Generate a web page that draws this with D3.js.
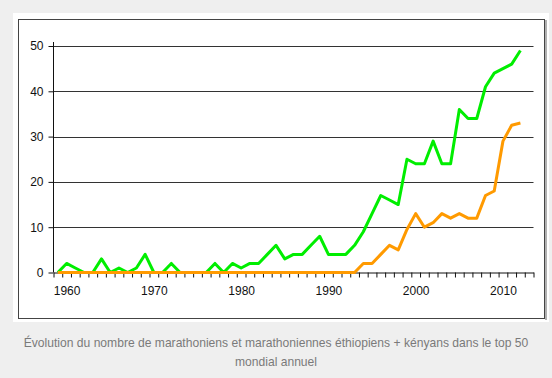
<!DOCTYPE html>
<html>
<head>
<meta charset="utf-8">
<script src="https://cdn.jsdelivr.net/npm/d3@7"></script>
<style>
  html, body { margin: 0; padding: 0; background: #efefef; }
  svg { display: block; }
  .tick text { font-family: "Liberation Sans", Arial, sans-serif; font-size: 12px; fill: #111; }
</style>
</head>
<body>
<svg id="chart" width="552" height="378"></svg>
<script>
// ---- data ----
const years = d3.range(1959, 2013); // 1959..2012
const axisYears = d3.range(1959, 2014); // category slots 1959..2013
const ethKenMen = [0,2,1,0,0,3,0,1,0,1,4,0,0,2,0,0,0,0,2,0,2,1,2,2,4,6,3,4,4,6,8,4,4,4,6,9,13,17,16,15,25,24,24,29,24,24,36,34,34,41,44,45,46,49];
const ethKenWomen = [0,0,0,0,0,0,0,0,0,0,0,0,0,0,0,0,0,0,0,0,0,0,0,0,0,0,0,0,0,0,0,0,0,0,0,2,2,4,6,5,9.5,13,10,11,13,12,13,12,12,17,18,29,32.5,33];
const yTicks = [0, 10, 20, 30, 40, 50];
const xLabelYears = [1960, 1970, 1980, 1990, 2000, 2010];
const caption = ["Évolution du nombre de marathoniens et marathoniennes éthiopiens + kényans dans le top 50", "mondial annuel"];

const svg = d3.select("#chart");

// panel
svg.append("rect").attr("x", 13).attr("y", 13).attr("width", 536).attr("height", 309).attr("fill", "#fff");
svg.append("line").attr("x1", 546).attr("x2", 546).attr("y1", 20).attr("y2", 320).attr("stroke", "#b0b0b0").attr("stroke-width", 2);
svg.append("rect").attr("x", 18.5).attr("y", 19.5).attr("width", 526).attr("height", 299)
  .attr("fill", "none").attr("stroke", "#444").attr("stroke-width", 1);

// scales
const x = d3.scaleLinear().domain([axisYears[0] - 0.5, axisYears[axisYears.length - 1] + 0.5]).range([53.5, 533.5]);
const y = d3.scaleLinear().domain([0, 50]).range([272.5, 46]);

// gridlines
svg.append("g").selectAll("line").data(yTicks.filter(d => d > 0)).join("line")
  .attr("x1", x.range()[0]).attr("x2", x.range()[1])
  .attr("y1", d => Math.round(y(d)) + 0.5).attr("y2", d => Math.round(y(d)) + 0.5)
  .attr("stroke", "#333").attr("stroke-width", 1);

// y axis
const yAxis = svg.append("g").attr("transform", `translate(${x.range()[0]},0)`)
  .call(d3.axisLeft(y).tickValues(yTicks).tickSize(5).tickPadding(5).tickSizeOuter(0));
yAxis.select(".domain").attr("stroke", "#111").attr("d", `M0,${y(0)}V${y(50) - 4}`);
yAxis.selectAll(".tick line").attr("stroke", "#111");

// x axis: tick marks at category boundaries
const edges = axisYears.map(d => d - 0.5).concat([axisYears[axisYears.length - 1] + 0.5]);
const xAxis = svg.append("g").attr("transform", `translate(0,${y(0)})`)
  .call(d3.axisBottom(x).tickValues(edges).tickFormat("").tickSize(5).tickSizeOuter(0));
xAxis.select(".domain").attr("stroke", "#111");
xAxis.selectAll(".tick line").attr("stroke", "#111");

// x labels at decades
const xLab = svg.append("g").attr("transform", `translate(0,${y(0)})`)
  .call(d3.axisBottom(x).tickValues(xLabelYears).tickFormat(d3.format("d")).tickSize(0).tickPadding(14));
xLab.select(".domain").remove();

// lines
const line = d3.line().x((d, i) => x(years[i])).y(d => y(d));
svg.append("path").datum(ethKenMen).attr("d", line)
  .attr("fill", "none").attr("stroke", "#00ee00").attr("stroke-width", 3).attr("stroke-linejoin", "round");
svg.append("path").datum(ethKenWomen).attr("d", line)
  .attr("fill", "none").attr("stroke", "#ff9a00").attr("stroke-width", 3).attr("stroke-linejoin", "round");

// caption
svg.append("text").attr("x", 276).attr("y", 347).attr("text-anchor", "middle")
  .attr("font-family", "Liberation Sans, Arial, sans-serif").attr("font-size", 12.1).attr("fill", "#7a7a7a")
  .text(caption[0]);
svg.append("text").attr("x", 276).attr("y", 366).attr("text-anchor", "middle")
  .attr("font-family", "Liberation Sans, Arial, sans-serif").attr("font-size", 12.1).attr("fill", "#7a7a7a")
  .text(caption[1]);
</script>
</body>
</html>
